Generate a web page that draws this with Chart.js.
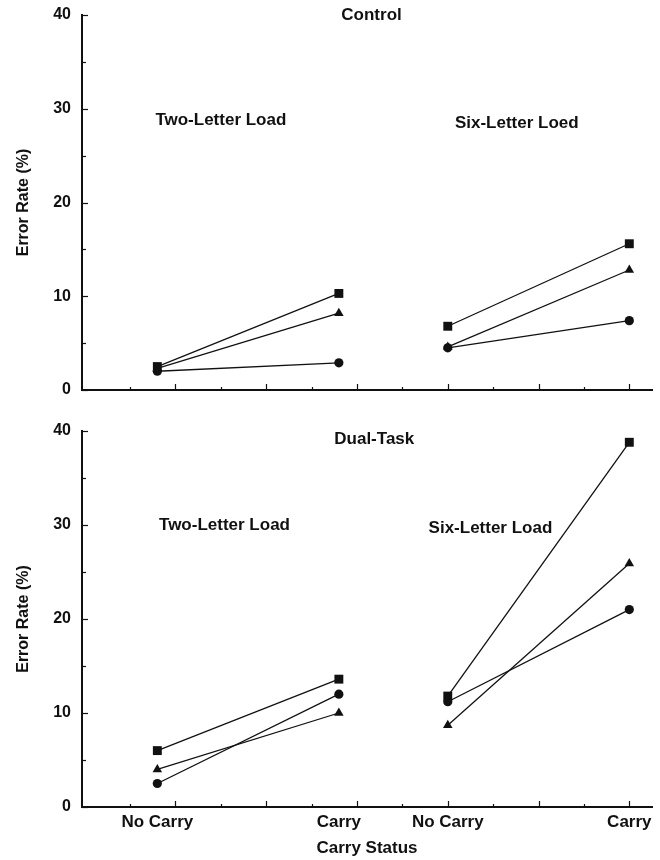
<!DOCTYPE html>
<html>
<head>
<meta charset="utf-8">
<title>Error rate by carry status</title>
<script src="https://cdn.jsdelivr.net/npm/chart.js@4.4.1/dist/chart.umd.min.js"></script>
<style>
  body { margin: 0; background: #fff; }
  canvas { display: block; }
</style>
</head>
<body>
<canvas id="controlChart" width="660" height="410"></canvas>
<canvas id="dualChart" width="660" height="450"></canvas>
<script>
// condition positions on the x axis
const twoLetterX = [0.8, 2.8];
const sixLetterX = [4, 6];
const xTickLabels = ["No Carry", "Carry", "No Carry", "Carry"];
const xMajorTicks = [1, 2, 3, 4, 5, 6];
const xMinorTicks = [0.5, 1.5, 2.5, 3.5, 4.5, 5.5];

// Control (error rate %, No Carry / Carry)
const controlTwoSquare = [2.5, 10.3];
const controlTwoTriangle = [2.3, 8.2];
const controlTwoCircle = [2.0, 2.9];
const controlSixSquare = [6.8, 15.6];
const controlSixTriangle = [4.6, 12.8];
const controlSixCircle = [4.5, 7.4];

// Dual-Task (error rate %, No Carry / Carry)
const dualTwoSquare = [6.0, 13.6];
const dualTwoTriangle = [4.0, 10.0];
const dualTwoCircle = [2.5, 12.0];
const dualSixSquare = [11.8, 38.8];
const dualSixTriangle = [8.7, 25.9];
const dualSixCircle = [11.2, 21.0];

const INK = "#111";
Chart.defaults.font.family = "'Liberation Sans', Arial, sans-serif";
Chart.defaults.font.weight = "bold";
Chart.defaults.color = INK;

const markerSize = { rect: 6.3, triangle: 5.5, circle: 4.6 };

function series(xs, ys, style) {
  return {
    data: xs.map((x, i) => ({ x: x, y: ys[i] })),
    borderColor: INK,
    backgroundColor: INK,
    borderWidth: 1.3,
    pointStyle: style,
    pointRadius: markerSize[style],
    pointBorderWidth: 0,
    pointBackgroundColor: INK,
    tension: 0
  };
}

// inward tick marks + in-panel notes
const panelDecor = {
  id: "panelDecor",
  afterDraw(chart, args, opts) {
    const { ctx, chartArea, scales: { x, y } } = chart;
    ctx.save();
    ctx.strokeStyle = INK;
    ctx.lineWidth = 1.2;
    y.ticks.forEach(t => {
      const py = Math.round(y.getPixelForValue(t.value)) + 0.5;
      const len = t.value % 10 === 0 ? 6 : 4;
      ctx.beginPath();
      ctx.moveTo(chartArea.left, py);
      ctx.lineTo(chartArea.left + len, py);
      ctx.stroke();
    });
    const xTick = (v, len) => {
      const px = Math.round(x.getPixelForValue(v)) + 0.5;
      ctx.beginPath();
      ctx.moveTo(px, chartArea.bottom);
      ctx.lineTo(px, chartArea.bottom - len);
      ctx.stroke();
    };
    xMajorTicks.forEach(v => xTick(v, 6));
    xMinorTicks.forEach(v => xTick(v, 3));

    ctx.fillStyle = INK;
    ctx.font = "bold 17px 'Liberation Sans', Arial, sans-serif";
    ctx.textAlign = "center";
    ctx.textBaseline = "middle";
    opts.notes.forEach(n => {
      ctx.fillText(n.text, x.getPixelForValue(n.x), y.getPixelForValue(n.y));
    });
    ctx.restore();
  }
};

function makePanel(id, datasets, notes, showX, topPad, xHeight) {
  return new Chart(document.getElementById(id), {
    type: "line",
    data: { datasets },
    plugins: [panelDecor],
    options: {
      responsive: false,
      animation: false,
      layout: { padding: { top: topPad, right: 8, left: 10, bottom: 0 } },
      plugins: {
        legend: { display: false },
        tooltip: { enabled: false },
        panelDecor: { notes }
      },
      scales: {
        x: {
          type: "linear",
          min: -0.03,
          max: 6.25,
          afterFit: s => { s.height = xHeight; },
          afterBuildTicks: s => {
            s.ticks = twoLetterX.concat(sixLetterX).map(v => ({ value: v }));
          },
          grid: { display: false, drawTicks: false },
          border: { color: INK, width: 2 },
          ticks: {
            display: showX,
            autoSkip: false,
            maxRotation: 0,
            padding: 5,
            font: { size: 17 },
            callback: (v, i) => xTickLabels[i]
          },
          title: {
            display: showX,
            text: "Carry Status",
            font: { size: 17 },
            padding: { top: 0, bottom: 1 }
          }
        },
        y: {
          min: 0,
          max: 40,
          afterFit: s => {
            s.width = 72;
            s.paddingTop = 0;
            s.paddingBottom = 0;
          },
          grid: { display: false, drawTicks: false },
          border: { color: INK, width: 2 },
          ticks: {
            stepSize: 5,
            autoSkip: false,
            padding: 11,
            font: { size: 16 },
            callback: v => (v % 10 === 0 ? v : "")
          },
          title: {
            display: true,
            text: "Error Rate (%)",
            font: { size: 16 },
            padding: { top: 4, bottom: 4 }
          }
        }
      }
    }
  });
}

makePanel("controlChart", [
  series(twoLetterX, controlTwoSquare, "rect"),
  series(twoLetterX, controlTwoTriangle, "triangle"),
  series(twoLetterX, controlTwoCircle, "circle"),
  series(sixLetterX, controlSixSquare, "rect"),
  series(sixLetterX, controlSixTriangle, "triangle"),
  series(sixLetterX, controlSixCircle, "circle")
], [
  { text: "Control", x: 3.16, y: 40 },
  { text: "Two-Letter Load", x: 1.5, y: 28.8 },
  { text: "Six-Letter Loed", x: 4.76, y: 28.5 }
], false, 15, 20);

makePanel("dualChart", [
  series(twoLetterX, dualTwoSquare, "rect"),
  series(twoLetterX, dualTwoTriangle, "triangle"),
  series(twoLetterX, dualTwoCircle, "circle"),
  series(sixLetterX, dualSixSquare, "rect"),
  series(sixLetterX, dualSixTriangle, "triangle"),
  series(sixLetterX, dualSixCircle, "circle")
], [
  { text: "Dual-Task", x: 3.19, y: 39.1 },
  { text: "Two-Letter Load", x: 1.54, y: 30.0 },
  { text: "Six-Letter Load", x: 4.47, y: 29.7 }
], true, 21, 53);
</script>
</body>
</html>
